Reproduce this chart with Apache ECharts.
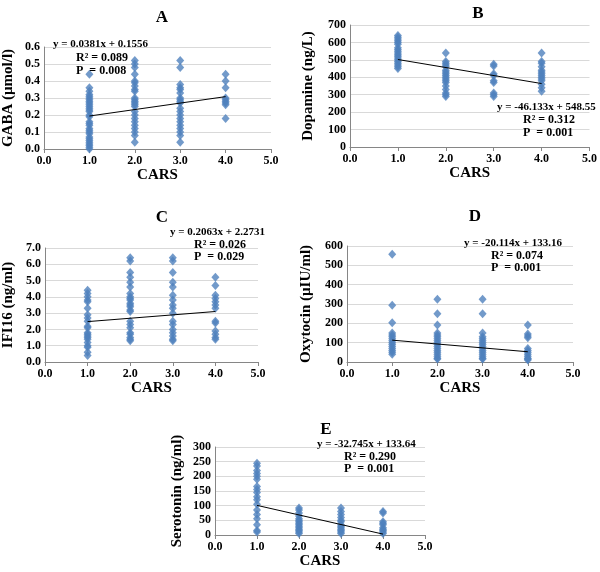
<!DOCTYPE html>
<html><head><meta charset="utf-8">
<script src="https://cdn.jsdelivr.net/npm/echarts@6/dist/echarts.min.js"></script>
<style>html,body{margin:0;padding:0;background:#fff}#c{width:600px;height:572px}</style>
</head><body><div id="c"></div>
<script>
// ---- data (CARS score groups 1..4) ----
const gabaX1 = [0.44,0.36,0.34,0.32,0.31,0.30,0.29,0.28,0.27,0.26,0.25,0.24,0.23,0.22,0.20,0.19,0.16,0.15,0.14,0.12,0.11,0.10,0.09,0.07,0.06,0.05,0.04,0.03,0.02,0.01,0.00];
const gabaX2 = [0.52,0.50,0.48,0.44,0.40,0.39,0.37,0.35,0.34,0.30,0.29,0.28,0.27,0.26,0.25,0.22,0.20,0.18,0.16,0.14,0.12,0.10,0.08,0.04];
const gabaX3 = [0.52,0.48,0.38,0.36,0.35,0.33,0.30,0.29,0.28,0.27,0.24,0.22,0.20,0.18,0.16,0.14,0.12,0.10,0.08,0.04];
const gabaX4 = [0.44,0.40,0.36,0.30,0.29,0.28,0.27,0.26,0.18];
const gabaTrend = [[1,0.194],[4,0.308]];

const dopaX1 = [640,630,620,610,600,590,570,560,550,540,530,520,510,500,490,480,470,460,450];
const dopaX2 = [540,490,480,470,460,440,430,420,410,400,390,380,370,350,330,310,300,290];
const dopaX3 = [475,465,420,410,380,370,310,300,290];
const dopaX4 = [540,490,480,460,440,430,420,410,400,390,380,360,340,320];
const dopaTrend = [[1,502],[4,364]];

const ifiX1 = [4.4,4.2,4.0,3.8,3.7,3.3,2.9,2.7,2.5,2.2,2.1,1.8,1.7,1.6,1.5,1.4,1.2,1.0,0.9,0.6,0.4];
const ifiX2 = [6.4,6.2,5.5,5.2,4.9,4.6,4.2,4.0,3.9,3.8,3.6,3.5,3.4,3.2,3.1,2.5,2.3,2.1,1.8,1.7,1.5,1.4,1.3];
const ifiX3 = [6.4,6.2,5.5,4.9,4.6,4.1,3.8,3.5,3.3,3.0,2.5,2.3,2.0,1.8,1.6,1.4,1.3];
const ifiX4 = [5.2,4.7,4.1,3.9,3.7,3.5,3.3,2.5,2.4,1.9,1.7,1.5,1.4];
const ifiTrend = [[1,2.48],[4,3.10]];

const oxyX1 = [557,293,203,150,140,130,120,110,100,90,80,70,60,50,40];
const oxyX2 = [325,250,192,150,140,130,120,110,100,90,80,70,60,50,40,30,20,15];
const oxyX3 = [325,250,150,130,120,110,100,90,80,70,60,50,40,30,20,15];
const oxyX4 = [192,145,135,125,70,60,50,40,30,20,15,10];
const oxyTrend = [[1,113],[4,53]];

const seroX1 = [245,235,220,210,200,190,165,155,145,130,120,105,85,70,55,35,15,10];
const seroX2 = [92,85,75,65,55,50,45,40,35,30,25,20,15,10,5];
const seroX3 = [92,80,70,60,50,45,35,30,25,20,15,10,5];
const seroX4 = [80,75,45,40,35,25,20,15,10,5];
const seroTrend = [[1,101],[4,3]];

const panelTitles = ['A','B','C','D','E'];
const yNames = ['GABA (\u00b5mol/l)','Dopamine (ng/L)','IFI16 (ng/ml)','Oxytocin (\u00b5IU/ml)','Serotonin (ng/ml)'];
const xName = 'CARS';
const yMax = [0.6,700,7,600,300];
const yInterval = [0.1,100,1,100,50];
const yDecimals = [1,0,1,0,0];
const eqTexts = [
  ['y = 0.0381x + 0.1556','R\u00b2 = 0.089','P  = 0.008'],
  ['y = -46.133x + 548.55','R\u00b2 = 0.312','P  = 0.001'],
  ['y = 0.2063x + 2.2731','R\u00b2 = 0.026','P  = 0.029'],
  ['y = -20.114x + 133.16','R\u00b2 = 0.074','P  = 0.001'],
  ['y = -32.745x + 133.64','R\u00b2 = 0.290','P  = 0.001']
];
const groups = [
  [gabaX1,gabaX2,gabaX3,gabaX4],
  [dopaX1,dopaX2,dopaX3,dopaX4],
  [ifiX1,ifiX2,ifiX3,ifiX4],
  [oxyX1,oxyX2,oxyX3,oxyX4],
  [seroX1,seroX2,seroX3,seroX4]
];
const trends = [gabaTrend,dopaTrend,ifiTrend,oxyTrend,seroTrend];

// ---- layout ----
const grids = [
  {left:42, top:47, width:229, height:102},
  {left:350, top:25, width:241, height:122},
  {left:42, top:248, width:216, height:114},
  {left:347, top:246, width:226, height:116},
  {left:215, top:447, width:210, height:88}
];
const yNameGaps = [28,34,29,33,30];
const titlePos = [[157,4],[473,0],[157,204],[470,203],[321,416]];
const eqPos = [
  [[53,44],[76,58],[76,71]],
  [[497,107],[523,120],[523,133]],
  [[170,232],[194,245],[194,257]],
  [[464,243],[491,256],[491,268]],
  [[317,444],[344,457],[344,469]]
];

const FONT = '"Liberation Serif","Times New Roman",serif';
const option = {
  animation:false,
  backgroundColor:'#fff',
  title: panelTitles.map((t,i)=>({text:t,left:titlePos[i][0],top:titlePos[i][1],textAlign:'center',
    textStyle:{fontFamily:FONT,fontWeight:'bold',fontSize:17,color:'#000'}})),
  grid: grids,
  xAxis: grids.map((g,i)=>({type:'value',gridIndex:i,min:0,max:5,interval:1,
    name:xName,nameLocation:'middle',nameGap:19,
    nameTextStyle:{fontFamily:FONT,fontWeight:'bold',fontSize:15,color:'#000'},
    axisLine:{show:true,lineStyle:{color:'#868686'}},
    axisTick:{show:true,length:4,lineStyle:{color:'#868686'}},
    splitLine:{show:false},
    axisLabel:{fontFamily:FONT,fontWeight:'bold',fontSize:12,color:'#000',margin:6,formatter:v=>v.toFixed(1)}})),
  yAxis: grids.map((g,i)=>({type:'value',gridIndex:i,min:0,max:yMax[i],interval:yInterval[i],
    name:yNames[i],nameLocation:'middle',nameGap:yNameGaps[i],nameRotate:90,
    nameTextStyle:{fontFamily:FONT,fontWeight:'bold',fontSize:15,color:'#000'},
    axisLine:{show:true,lineStyle:{color:'#868686'}},
    axisTick:{show:false},
    splitLine:{show:true,lineStyle:{color:'#d9d9d9'}},
    axisLabel:{fontFamily:FONT,fontWeight:'bold',fontSize:12,color:'#000',margin:4,formatter:v=>v.toFixed(yDecimals[i])}})),
  series: [],
  graphic: []
};
groups.forEach((gs,i)=>{
  const pts=[];
  gs.forEach((arr,k)=>arr.forEach(v=>pts.push([k+1,v])));
  option.series.push({type:'scatter',xAxisIndex:i,yAxisIndex:i,data:pts,symbol:'diamond',symbolSize:[8,9],
    itemStyle:{color:'#4f81bd'},z:2});
  option.series.push({type:'line',xAxisIndex:i,yAxisIndex:i,data:trends[i],symbol:'none',
    lineStyle:{color:'#000',width:1},z:3});
  eqTexts[i].forEach((t,k)=>{
    const p=eqPos[i][k];
    option.graphic.push({type:'text',x:p[0],y:p[1],z:10,style:{text:t,fontFamily:FONT,fontWeight:'bold',
      fontSize:k===0?11:12,fill:'#000',textAlign:'left',textVerticalAlign:'middle'}});
  });
});
const chart = echarts.init(document.getElementById('c'),null,{renderer:'canvas'});
chart.setOption(option);
</script></body></html>
